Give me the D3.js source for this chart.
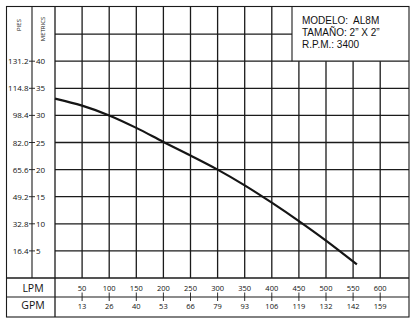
<!DOCTYPE html>
<html>
<head>
<meta charset="utf-8">
<script src="https://cdn.jsdelivr.net/npm/d3@7"></script>
<style>
  html, body { margin: 0; padding: 0; background: #fff; }
  svg { display: block; font-family: "Open Sans", "Noto Sans", sans-serif; }
</style>
</head>
<body>
<svg id="chart" width="414" height="325"></svg>
<script>
// Pump performance curve: flow (LPM) vs head (metres)
const flowLpm   = [0, 50, 100, 150, 200, 250, 300, 350, 400, 450, 500, 557];
const headM     = [33.1, 31.8, 30.0, 27.7, 25.1, 22.6, 20.0, 17.1, 13.9, 10.5, 6.9, 2.5];

// Axis tick labels
const lpmTicks  = [50, 100, 150, 200, 250, 300, 350, 400, 450, 500, 550, 600];
const gpmLabels = ["13", "26", "40", "53", "66", "79", "93", "106", "119", "132", "142", "159"];
const metreTicks = [5, 10, 15, 20, 25, 30, 35, 40];
const feetLabels = ["16.4", "32.8", "49.2", "65.6", "82.0", "98.4", "114.8", "131.2"];
const infoLines = ["MODELO:  AL8M", "TAMAÑO: 2\u201D X 2\u201D", "R.P.M.: 3400"];

const svg = d3.select("#chart");
const W = 414, H = 325;

// Frame layout
const frame = { left: 6.5, top: 6.5, right: 409, bottom: 317 };
const colDiv = 32;           // PIES | METRICS divider
const plotLeft = 55;         // start of plot area
const rowDiv = 297;          // LPM | GPM divider
const box = { left: 292 };   // model info box

const x = d3.scaleLinear().domain([0, 600]).range([plotLeft, 380.2]);
const y = d3.scaleLinear().domain([0, 50]).range([278, 7]);

svg.append("rect").attr("width", W).attr("height", H).attr("fill", "#fff");

const ink = "#1b1b1b";
const g = svg.append("g").attr("stroke", ink).attr("fill", "none");

// Horizontal grid lines
metreTicks.forEach(m => {
  g.append("line")
    .attr("x1", plotLeft).attr("x2", frame.right)
    .attr("y1", y(m)).attr("y2", y(m))
    .attr("stroke-width", 1.3);
});
// 45 m line stops at the info box
g.append("line")
  .attr("x1", plotLeft).attr("x2", box.left)
  .attr("y1", y(45)).attr("y2", y(45))
  .attr("stroke-width", 1.3);

// Vertical grid lines (stop below the info box where they pass under it)
lpmTicks.forEach(v => {
  const xv = x(v);
  g.append("line")
    .attr("x1", xv).attr("x2", xv)
    .attr("y1", y(0))
    .attr("y2", xv > box.left ? y(40) : frame.top)
    .attr("stroke-width", 1.3);
});

// Info box left edge
g.append("line")
  .attr("x1", box.left).attr("x2", box.left)
  .attr("y1", frame.top).attr("y2", y(40))
  .attr("stroke-width", 1.1);

// Table dividers
g.append("line").attr("x1", frame.left).attr("x2", frame.right)
  .attr("y1", y(0)).attr("y2", y(0)).attr("stroke-width", 1.3);
g.append("line").attr("x1", frame.left).attr("x2", frame.right)
  .attr("y1", rowDiv).attr("y2", rowDiv).attr("stroke-width", 1.1);
g.append("line").attr("x1", colDiv).attr("x2", colDiv)
  .attr("y1", frame.top).attr("y2", y(0)).attr("stroke-width", 1.1);
g.append("line").attr("x1", plotLeft).attr("x2", plotLeft)
  .attr("y1", frame.top).attr("y2", frame.bottom).attr("stroke-width", 1.3);

// Outer frame
g.append("rect")
  .attr("x", frame.left).attr("y", frame.top)
  .attr("width", frame.right - frame.left)
  .attr("height", frame.bottom - frame.top)
  .attr("stroke-width", 1.1);

// Tick marks on the unit divider
metreTicks.forEach(m => {
  g.append("line")
    .attr("x1", colDiv - 3).attr("x2", colDiv + 3)
    .attr("y1", y(m)).attr("y2", y(m))
    .attr("stroke-width", 0.9);
});

// Tick marks between LPM and GPM labels
lpmTicks.forEach(v => {
  g.append("line")
    .attr("x1", x(v)).attr("x2", x(v))
    .attr("y1", 292.5).attr("y2", 301)
    .attr("stroke-width", 0.9);
});

// Performance curve
const line = d3.line()
  .x((d, i) => x(flowLpm[i]))
  .y(d => y(d))
  .curve(d3.curveCatmullRom.alpha(0.5));
svg.append("path")
  .datum(headM)
  .attr("d", line)
  .attr("fill", "none")
  .attr("stroke", "#151515")
  .attr("stroke-width", 2.2)
  .attr("stroke-linecap", "butt");

const t = svg.append("g").attr("fill", "#111");

// Feet labels
t.selectAll("text.ft").data(metreTicks).enter().append("text")
  .attr("class", "ft")
  .attr("x", 28.5).attr("y", d => y(d) + 3)
  .attr("text-anchor", "end")
  .attr("font-size", 8)
  .text((d, i) => feetLabels[i]);

// Metre labels
t.selectAll("text.m").data(metreTicks).enter().append("text")
  .attr("class", "m")
  .attr("x", 36).attr("y", d => y(d) + 3)
  .attr("font-size", 8)
  .text(d => d);

// Column headers (rotated)
t.append("text")
  .attr("transform", `translate(21,25) rotate(-90)`)
  .attr("text-anchor", "middle")
  .attr("font-size", 6)
  .text("PIES");
t.append("text")
  .attr("transform", `translate(45,29) rotate(-90)`)
  .attr("text-anchor", "middle")
  .attr("font-size", 6)
  .text("METRICS");

// Flow row labels
t.append("text").attr("x", 33).attr("y", 292)
  .attr("text-anchor", "middle").attr("font-size", 10.5).text("LPM");
t.append("text").attr("x", 33).attr("y", 309)
  .attr("text-anchor", "middle").attr("font-size", 10.5).text("GPM");

t.selectAll("text.lpm").data(lpmTicks).enter().append("text")
  .attr("class", "lpm")
  .attr("x", d => x(d)).attr("y", 291)
  .attr("text-anchor", "middle")
  .attr("font-size", 7.5)
  .text(d => d);

t.selectAll("text.gpm").data(lpmTicks).enter().append("text")
  .attr("class", "gpm")
  .attr("x", d => x(d)).attr("y", 308.5)
  .attr("text-anchor", "middle")
  .attr("font-size", 7.5)
  .text((d, i) => gpmLabels[i]);

// Model information
t.selectAll("text.info").data(infoLines).enter().append("text")
  .attr("class", "info")
  .attr("x", 302).attr("y", (d, i) => 24 + i * 12)
  .attr("font-family", "'Liberation Sans', Arial, sans-serif")
  .attr("font-size", 10)
  .attr("xml:space", "preserve")
  .style("white-space", "pre")
  .text(d => d);
</script>
</body>
</html>
